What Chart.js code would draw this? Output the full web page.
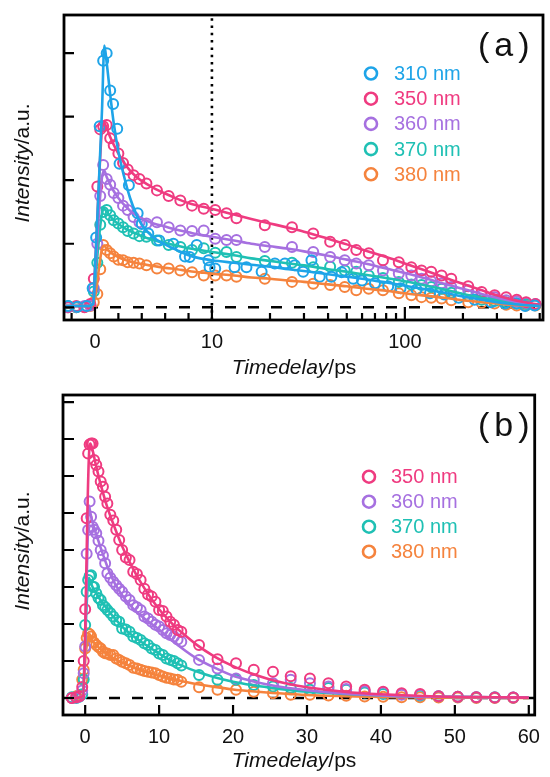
<!DOCTYPE html>
<html>
<head>
<meta charset="utf-8">
<script src="https://cdn.jsdelivr.net/npm/chart.js@4/dist/chart.umd.min.js"></script>
<style>
  html, body { margin: 0; padding: 0; background: #fff; }
  #wrap { position: relative; width: 550px; height: 777px; }
  .panel { position: absolute; left: 0; width: 550px; }
  #panelA { top: 0; height: 380px; }
  #panelB { top: 380px; height: 397px; }
</style>
</head>
<body>
<div id="wrap">
  <div class="panel" id="panelA"><canvas id="chartA"></canvas></div>
  <div class="panel" id="panelB"><canvas id="chartB"></canvas></div>
</div>
<script>
// ---- panel (a): 310-380 nm, split linear/log time axis ----
const A_T = [-2.3, -1.6, -0.9, -0.4, -0.1, 0.2, 0.45, 0.7, 1.0, 1.3, 1.6, 2.0, 2.4, 2.8, 3.3, 3.8, 4.4, 5.3, 6.3, 7.3, 8.3, 9.3,
  10.4, 11.9, 13.4, 18.8, 26, 33.5, 41, 48.8, 56, 65, 77, 93, 108, 122, 137, 155, 174, 213, 250, 292, 335, 380, 425, 475];
const A350_I = [0.01, 0.02, 0.0, 0.05, 0.45, 1.9, 2.8, 2.85, 2.87, 2.66, 2.55, 2.42, 2.27, 2.17, 2.08, 2.02, 1.95, 1.84, 1.75, 1.68, 1.6, 1.55,
  1.53, 1.48, 1.40, 1.29, 1.26, 1.16, 1.03, 0.98, 0.90, 0.85, 0.74, 0.71, 0.63, 0.58, 0.56, 0.50, 0.45, 0.33, 0.24, 0.19, 0.16, 0.12, 0.08, 0.05];
const A360_I = [0.0, 0.01, 0.02, 0.03, 0.3, 1.0, 1.75, 2.24, 2.02, 1.93, 1.80, 1.72, 1.60, 1.53, 1.42, 1.34, 1.32, 1.34, 1.26, 1.21, 1.20, 1.21,
  1.08, 1.06, 1.06, 0.95, 0.95, 0.87, 0.79, 0.74, 0.69, 0.66, 0.58, 0.53, 0.50, 0.45, 0.41, 0.38, 0.32, 0.27, 0.19, 0.16, 0.11, 0.09, 0.07, 0.05];
const A370_I = [0.02, 0.0, 0.01, 0.04, 0.25, 0.7, 1.3, 1.50, 1.53, 1.45, 1.37, 1.32, 1.26, 1.20, 1.16, 1.12, 1.11, 1.05, 0.98, 0.95, 0.90, 0.93,
  0.86, 0.87, 0.79, 0.73, 0.70, 0.63, 0.64, 0.58, 0.56, 0.50, 0.46, 0.40, 0.36, 0.35, 0.32, 0.29, 0.23, 0.18, 0.12, 0.10, 0.08, 0.06, 0.05, 0.04];
const A380_I = [0.0, 0.0, 0.01, 0.02, 0.08, 0.21, 0.6, 0.98, 0.90, 0.85, 0.80, 0.75, 0.74, 0.71, 0.70, 0.69, 0.66, 0.61, 0.61, 0.58, 0.55, 0.50,
  0.50, 0.50, 0.48, 0.45, 0.40, 0.37, 0.35, 0.32, 0.27, 0.29, 0.27, 0.22, 0.19, 0.16, 0.15, 0.14, 0.11, 0.08, 0.07, 0.06, 0.04, 0.03, 0.03, 0.03];
const A310_T = [-2.3, -1.5, -0.7, -0.2, 0.1, 0.4, 0.7, 1.0, 1.3, 1.55, 1.9, 2.1, 2.9, 3.65, 4.0, 4.56, 5.5, 6.7, 7.7, 8.1, 8.7, 9.7, 9.8,
  10.4, 13.1, 15.1, 18.1, 21.2, 23.9, 26.9, 29.7, 32.8, 36.2, 41.6, 47, 54, 60, 70, 82, 95, 115, 135, 160, 190, 230, 280, 330, 379, 420, 470];
const A310_I = [0.02, 0.01, 0.02, 0.3, 1.1, 2.85, 3.88, 4.0, 3.41, 3.2, 2.81, 2.26, 1.92, 1.48, 1.31, 1.16, 1.05, 1.0, 0.80, 0.79, 0.98, 0.74, 0.63,
  0.61, 0.63, 0.63, 0.56, 0.69, 0.69, 0.66, 0.56, 0.74, 0.48, 0.48, 0.55, 0.45, 0.42, 0.38, 0.33, 0.30, 0.28, 0.22, 0.20, 0.15, 0.12, 0.08, 0.06, 0.06, 0.02, 0.03];

// fitted curves, panel (a)
const A_FIT_T = [-2.5, -0.5, -0.15, 0, 0.2, 0.4, 0.6, 0.8, 1.0, 1.3, 1.6, 2, 2.5, 3, 3.5, 4, 5, 6, 7, 8, 9, 10,
  13, 16, 20, 25, 30, 40, 50, 60, 80, 100, 130, 160, 200, 250, 300, 400, 500];
const A310_FIT = [0.02, 0.02, 0.05, 0.6, 1.4, 2.25, 3.1, 4.12, 3.85, 3.35, 2.9, 2.45, 2.05, 1.72, 1.48, 1.3, 1.1, 0.99, 0.9, 0.82, 0.77, 0.74,
  0.7, 0.67, 0.64, 0.6, 0.57, 0.52, 0.48, 0.45, 0.39, 0.34, 0.28, 0.23, 0.17, 0.12, 0.08, 0.04, 0.02];
const A350_FIT = [0.02, 0.02, 0.05, 0.6, 1.4, 2.2, 2.8, 2.9, 2.82, 2.68, 2.56, 2.42, 2.27, 2.15, 2.06, 1.99, 1.88, 1.79, 1.71, 1.64, 1.59, 1.55,
  1.46, 1.39, 1.32, 1.25, 1.19, 1.08, 0.99, 0.91, 0.79, 0.69, 0.57, 0.47, 0.37, 0.27, 0.19, 0.09, 0.04];
const A360_FIT = [0.02, 0.02, 0.05, 0.5, 1.1, 1.65, 2.05, 2.15, 2.05, 1.93, 1.83, 1.72, 1.61, 1.52, 1.45, 1.40, 1.32, 1.27, 1.22, 1.18, 1.14, 1.11,
  1.05, 1.0, 0.96, 0.92, 0.88, 0.81, 0.75, 0.7, 0.61, 0.54, 0.45, 0.37, 0.29, 0.21, 0.15, 0.07, 0.03];
const A370_FIT = [0.02, 0.02, 0.05, 0.35, 0.8, 1.2, 1.48, 1.55, 1.5, 1.43, 1.37, 1.31, 1.25, 1.2, 1.16, 1.12, 1.06, 1.01, 0.97, 0.93, 0.9, 0.87,
  0.82, 0.77, 0.73, 0.69, 0.66, 0.6, 0.56, 0.52, 0.46, 0.41, 0.34, 0.28, 0.21, 0.15, 0.11, 0.06, 0.03];
const A380_FIT = [0.02, 0.02, 0.04, 0.15, 0.4, 0.7, 0.92, 0.97, 0.92, 0.87, 0.83, 0.79, 0.75, 0.72, 0.7, 0.68, 0.65, 0.62, 0.6, 0.57, 0.55, 0.53,
  0.5, 0.47, 0.45, 0.42, 0.4, 0.36, 0.33, 0.3, 0.26, 0.22, 0.18, 0.15, 0.11, 0.08, 0.06, 0.03, 0.02];

const A_X_TICKS = [-2, 0, 2, 4, 6, 8, 10, 20, 30, 40, 50, 60, 70, 80, 90, 100, 200, 300, 400, 500];
const A_X_MAJOR = [0, 10, 100];
const A_Y_TICKS = [0, 1, 2, 3, 4];

// ---- panel (b): 350-380 nm, linear time axis ----
const B_T = [-1.8, -1.2, -0.8, -0.4, -0.2, 0, 0.2, 0.4, 0.6, 0.8, 1.0, 1.2, 1.5, 1.8, 2.1, 2.4, 2.7, 3.0, 3.4, 3.8, 4.2, 4.6, 5.0, 5.5, 6.0,
  6.5, 7.0, 7.5, 8.0, 8.5, 9.0, 9.5, 10.0, 10.5, 11.0, 11.5, 12.0, 12.5, 13.0, 15.4, 17.9, 20.4, 22.8, 25.4, 27.8, 30.4, 32.9, 35.3,
  37.8, 40.3, 42.8, 45.3, 47.8, 50.4, 52.9, 55.4, 57.9];
const B350_I = [0.0, 0.02, 0.05, 0.3, 1.0, 2.4, 4.86, 6.61, 6.85, 6.88, 6.88, 6.43, 6.3, 6.12, 5.85, 5.71, 5.44, 5.26, 4.95, 4.8, 4.55, 4.27, 4.0, 3.8, 3.73,
  3.41, 3.35, 3.19, 2.95, 2.8, 2.74, 2.6, 2.38, 2.35, 2.2, 2.06, 1.98, 1.84, 1.79, 1.43, 1.05, 0.94, 0.76, 0.71, 0.59, 0.53, 0.40, 0.31,
  0.22, 0.17, 0.13, 0.11, 0.05, 0.03, 0.02, 0.01, 0.01];
const B360_I = [0.0, 0.01, 0.04, 0.2, 0.67, 1.39, 3.9, 4.54, 5.31, 4.9, 4.63, 4.55, 4.45, 4.25, 4.0, 3.85, 3.64, 3.37, 3.25, 3.14, 3.05, 2.95, 2.87, 2.74, 2.65,
  2.51, 2.45, 2.38, 2.2, 2.15, 2.06, 1.98, 1.93, 1.84, 1.75, 1.7, 1.66, 1.58, 1.52, 1.03, 0.8, 0.53, 0.49, 0.40, 0.49, 0.40, 0.31, 0.24,
  0.18, 0.15, 0.09, 0.09, 0.05, 0.03, 0.02, 0.01, 0.01];
const B370_I = [0.02, 0.0, 0.03, 0.1, 0.5, 1.97, 2.87, 3.19, 3.30, 3.32, 3.01, 3.0, 2.83, 2.7, 2.65, 2.51, 2.45, 2.38, 2.3, 2.2, 2.1, 2.06, 1.88, 1.85, 1.79,
  1.66, 1.62, 1.57, 1.48, 1.43, 1.34, 1.30, 1.2, 1.16, 1.07, 1.03, 1.0, 0.94, 0.88, 0.62, 0.49, 0.49, 0.35, 0.31, 0.27, 0.22, 0.27, 0.22,
  0.15, 0.11, 0.1, 0.07, 0.05, 0.03, 0.02, 0.02, 0.01];
const B380_I = [0.0, 0.05, 0.08, 0.5, 0.76, 1.34, 1.62, 1.75, 1.72, 1.66, 1.52, 1.5, 1.43, 1.38, 1.34, 1.25, 1.21, 1.2, 1.16, 1.16, 1.07, 1.03, 0.98, 0.94, 0.89,
  0.82, 0.8, 0.76, 0.73, 0.71, 0.69, 0.67, 0.62, 0.58, 0.55, 0.53, 0.5, 0.49, 0.44, 0.29, 0.22, 0.22, 0.17, 0.13, 0.09, 0.09, 0.07, 0.06,
  0.04, 0.03, 0.02, 0.02, 0.01, 0.01, 0.0, 0.0, 0.0];

// fitted curves, panel (b)
const B_FIT_T = [-1.5, -0.3, 0, 0.3, 0.5, 0.7, 1, 1.5, 2, 3, 4, 5, 6, 7, 8, 9, 10, 11, 12, 13, 15, 17.5, 20, 22.5, 25, 27.5, 30, 35, 40, 45, 50, 55, 60];
const B350_FIT = [0, 0.05, 1.8, 5.0, 6.5, 6.88, 6.7, 6.25, 5.85, 5.15, 4.6, 4.1, 3.68, 3.3, 2.97, 2.67, 2.4, 2.17, 1.96, 1.78, 1.45, 1.12, 0.86,
  0.66, 0.5, 0.38, 0.29, 0.17, 0.1, 0.06, 0.03, 0.02, 0.01];
const B360_FIT = [0, 0.05, 1.5, 4.0, 5.2, 5.0, 4.75, 4.42, 4.12, 3.55, 3.1, 2.78, 2.52, 2.32, 2.15, 2.0, 1.85, 1.68, 1.52, 1.36, 1.08, 0.82, 0.6,
  0.46, 0.35, 0.27, 0.21, 0.12, 0.07, 0.04, 0.03, 0.02, 0.01];
const B370_FIT = [0, 0.05, 1.6, 2.9, 3.25, 3.15, 3.0, 2.83, 2.67, 2.4, 2.15, 1.93, 1.75, 1.6, 1.46, 1.33, 1.2, 1.08, 0.97, 0.88, 0.72, 0.56, 0.44,
  0.35, 0.28, 0.22, 0.17, 0.11, 0.07, 0.04, 0.03, 0.02, 0.01];
const B380_FIT = [0, 0.1, 1.0, 1.55, 1.72, 1.65, 1.55, 1.43, 1.34, 1.18, 1.06, 0.96, 0.87, 0.79, 0.72, 0.66, 0.6, 0.55, 0.5, 0.46, 0.38, 0.3, 0.23,
  0.18, 0.14, 0.11, 0.08, 0.05, 0.03, 0.02, 0.01, 0.01, 0];

const B_X_TICKS = [0, 10, 20, 30, 40, 50, 60];
const B_Y_TICKS = [0, 1, 2, 3, 4, 5, 6, 7, 8];

const X_TITLE = [{ text: 'Timedelay', italic: true }, { text: '/ps' }];
const Y_TITLE = [{ text: 'Intensity', italic: true }, { text: '/a.u.' }];

const C310 = '#1ea4e8', C350 = '#ef3b80', C360 = '#a670e0', C370 = '#1fc0b4', C380 = '#f5833d';
const FONT = '"Liberation Sans", Arial, sans-serif';

Chart.defaults.font.family = FONT;
Chart.defaults.color = '#111';

// linear below 10 ps, logarithmic above
const SPLIT = 10;
const DECADE = 16.5;
class SplitLogScale extends Chart.Scale {
  static id = 'splitlog';
  static defaults = {};
  determineDataLimits() {
    this.min = this.options.min;
    this.max = this.options.max;
  }
  buildTicks() {
    return A_X_TICKS.map(value => ({ value }));
  }
  getLabelForValue(value) { return String(value); }
  warp(v) { return v <= SPLIT ? v : SPLIT + DECADE * Math.log10(v / SPLIT); }
  getPixelForValue(value) {
    const a = this.warp(this.min), b = this.warp(this.max);
    return this.getPixelForDecimal((this.warp(value) - a) / (b - a));
  }
  getPixelForTick(index) { return this.getPixelForValue(this.ticks[index].value); }
  getValueForPixel(pixel) {
    const a = this.warp(this.min), b = this.warp(this.max);
    const w = a + this.getDecimalForPixel(pixel) * (b - a);
    return w <= SPLIT ? w : SPLIT * Math.pow(10, (w - SPLIT) / DECADE);
  }
}
Chart.register(SplitLogScale);

const toXY = (ts, vs) => ts.map((t, i) => ({ x: t, y: vs[i] }));

function seriesSets(list) {
  const out = [];
  list.forEach(s => {
    out.push({
      type: 'scatter', data: toXY(s.t, s.v), showLine: false, order: 2,
      pointStyle: 'circle', pointRadius: 5, pointBorderWidth: 2,
      pointBorderColor: s.color, pointBackgroundColor: 'rgba(0,0,0,0)'
    });
    out.push({
      type: 'line', data: toXY(s.fitT, s.fit), order: 1,
      borderColor: s.color, borderWidth: 2.6, pointRadius: 0,
      cubicInterpolationMode: 'monotone', fill: false
    });
  });
  return out;
}

function refLine(points, dash, width) {
  return {
    type: 'line', data: points, order: 3, borderColor: '#000', borderWidth: width,
    borderDash: dash, pointRadius: 0, fill: false, borderCapStyle: 'butt'
  };
}

function drawMixed(ctx, parts, cx, cy, angle, size) {
  ctx.save();
  ctx.translate(cx, cy);
  ctx.rotate(angle);
  ctx.textAlign = 'left';
  ctx.textBaseline = 'alphabetic';
  ctx.fillStyle = '#111';
  const fonts = parts.map(p => (p.italic ? 'italic ' : '') + size + 'px ' + FONT);
  const widths = parts.map((p, i) => { ctx.font = fonts[i]; return ctx.measureText(p.text).width; });
  let x0 = -widths.reduce((a, b) => a + b, 0) / 2;
  parts.forEach((p, i) => {
    ctx.font = fonts[i];
    ctx.fillText(p.text, x0, 0);
    x0 += widths[i];
  });
  ctx.restore();
}

// frame, inward ticks, axis titles, legend and panel tag
function decor(cfg) {
  return {
    id: 'decor',
    afterDraw(chart) {
      const { ctx, chartArea: area, scales: { x, y } } = chart;
      ctx.save();
      ctx.strokeStyle = '#000';
      ctx.lineWidth = 2.2;
      ctx.beginPath();
      cfg.xTicks.forEach(v => {
        const px = x.getPixelForValue(v);
        const len = cfg.xMajor.includes(v) ? cfg.majorLen : cfg.minorLen;
        ctx.moveTo(px, area.bottom);
        ctx.lineTo(px, area.bottom - len);
      });
      cfg.yTicks.forEach(v => {
        const py = y.getPixelForValue(v);
        ctx.moveTo(area.left, py);
        ctx.lineTo(area.left + cfg.yLen, py);
      });
      ctx.stroke();
      ctx.lineWidth = 2.8;
      ctx.strokeRect(area.left, area.top, area.right - area.left, area.bottom - area.top);

      drawMixed(ctx, X_TITLE, cfg.xTitle[0], cfg.xTitle[1], 0, 21);
      drawMixed(ctx, Y_TITLE, cfg.yTitle[0], cfg.yTitle[1], -Math.PI / 2, 21);

      ctx.font = '20px ' + FONT;
      ctx.textBaseline = 'middle';
      ctx.textAlign = 'left';
      cfg.legend.forEach((s, i) => {
        const cy = cfg.legendY + i * cfg.legendStep;
        ctx.strokeStyle = s.color;
        ctx.lineWidth = 2.6;
        ctx.beginPath();
        ctx.arc(cfg.markerX, cy, 6, 0, Math.PI * 2);
        ctx.stroke();
        ctx.fillStyle = s.color;
        ctx.fillText(s.label, cfg.textX, cy + 1);
      });

      ctx.font = '34px ' + FONT;
      ctx.textBaseline = 'alphabetic';
      ctx.fillStyle = '#111';
      ctx.letterSpacing = '5px';
      ctx.fillText(cfg.tag, 478, 56);
      ctx.restore();
    }
  };
}

function axisFont() { return { family: FONT, size: 20 }; }

// ---- chart (a) ----
const A_X_MIN = -2.65, A_X_MAX = 520, A_Y_MIN = -0.2, A_Y_MAX = 4.6;
const seriesA = [
  { label: '310 nm', color: C310, t: A310_T, v: A310_I, fitT: A_FIT_T, fit: A310_FIT },
  { label: '350 nm', color: C350, t: A_T, v: A350_I, fitT: A_FIT_T, fit: A350_FIT },
  { label: '360 nm', color: C360, t: A_T, v: A360_I, fitT: A_FIT_T, fit: A360_FIT },
  { label: '370 nm', color: C370, t: A_T, v: A370_I, fitT: A_FIT_T, fit: A370_FIT },
  { label: '380 nm', color: C380, t: A_T, v: A380_I, fitT: A_FIT_T, fit: A380_FIT }
];

new Chart(document.getElementById('chartA'), {
  type: 'scatter',
  data: {
    datasets: [
      refLine([{ x: A_X_MIN, y: 0 }, { x: A_X_MAX, y: 0 }], [11, 12], 2.4),
      refLine([{ x: 10, y: A_Y_MIN }, { x: 10, y: A_Y_MAX }], [2.5, 4.8], 2.6),
      ...seriesSets(seriesA)
    ]
  },
  options: {
    animation: false,
    responsive: true,
    maintainAspectRatio: false,
    events: [],
    layout: { padding: { top: 15, right: 7, left: 64, bottom: 0 } },
    plugins: { legend: { display: false }, tooltip: { enabled: false } },
    scales: {
      x: {
        type: 'splitlog', min: A_X_MIN, max: A_X_MAX,
        grid: { display: false, drawTicks: false },
        border: { display: false },
        ticks: {
          autoSkip: false, maxRotation: 0, padding: 10, font: axisFont(), color: '#111',
          callback: v => (A_X_MAJOR.includes(v) ? String(v) : '')
        },
        afterFit: s => { s.height = 60; }
      },
      y: { type: 'linear', display: false, min: A_Y_MIN, max: A_Y_MAX }
    }
  },
  plugins: [decor({
    xTicks: A_X_TICKS, xMajor: A_X_MAJOR, yTicks: A_Y_TICKS,
    majorLen: 13, minorLen: 7, yLen: 10,
    xTitle: [294, 374], yTitle: [29, 163],
    legend: seriesA, legendY: 73.5, legendStep: 25.2, markerX: 371, textX: 394,
    tag: '(a)'
  })]
});

// ---- chart (b) ----
const B_X_MIN = -3, B_X_MAX = 60.8, B_Y_MIN = -0.46, B_Y_MAX = 8.19;
const seriesB = [
  { label: '350 nm', color: C350, t: B_T, v: B350_I, fitT: B_FIT_T, fit: B350_FIT },
  { label: '360 nm', color: C360, t: B_T, v: B360_I, fitT: B_FIT_T, fit: B360_FIT },
  { label: '370 nm', color: C370, t: B_T, v: B370_I, fitT: B_FIT_T, fit: B370_FIT },
  { label: '380 nm', color: C380, t: B_T, v: B380_I, fitT: B_FIT_T, fit: B380_FIT }
];

new Chart(document.getElementById('chartB'), {
  type: 'scatter',
  data: {
    datasets: [
      refLine([{ x: B_X_MIN, y: 0 }, { x: B_X_MAX, y: 0 }], [11, 12], 2.4),
      ...seriesSets(seriesB)
    ]
  },
  options: {
    animation: false,
    responsive: true,
    maintainAspectRatio: false,
    events: [],
    layout: { padding: { top: 15, right: 6, left: 63, bottom: 0 } },
    plugins: { legend: { display: false }, tooltip: { enabled: false } },
    scales: {
      x: {
        type: 'linear', min: B_X_MIN, max: B_X_MAX,
        grid: { display: false, drawTicks: false },
        border: { display: false },
        afterBuildTicks: s => { s.ticks = B_X_TICKS.map(value => ({ value })); },
        ticks: { autoSkip: false, maxRotation: 0, padding: 10, font: axisFont(), color: '#111' },
        afterFit: s => { s.height = 62; }
      },
      y: { type: 'linear', display: false, min: B_Y_MIN, max: B_Y_MAX }
    }
  },
  plugins: [decor({
    xTicks: B_X_TICKS, xMajor: B_X_TICKS, yTicks: B_Y_TICKS,
    majorLen: 10, minorLen: 10, yLen: 11,
    xTitle: [294, 387], yTitle: [29, 171],
    legend: seriesB, legendY: 96.7, legendStep: 25, markerX: 369, textX: 391,
    tag: '(b)'
  })]
});
</script>
</body>
</html>
